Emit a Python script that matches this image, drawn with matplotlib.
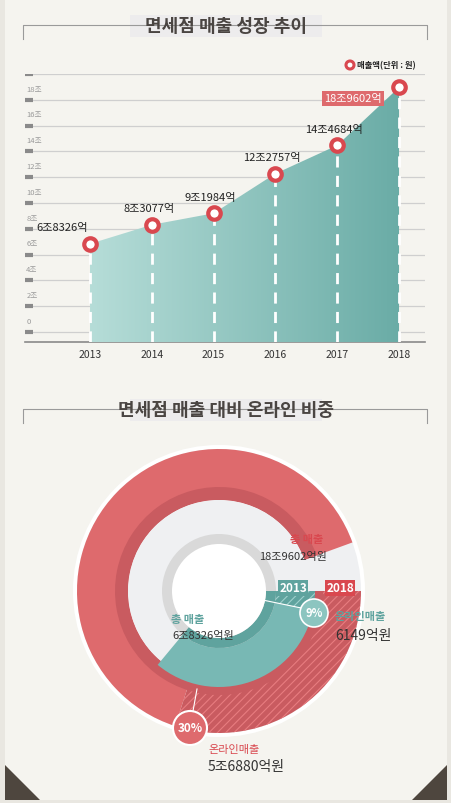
import matplotlib
matplotlib.use("Agg")
import matplotlib.pyplot as plt
import numpy as np
from matplotlib.patches import Wedge, Circle, Rectangle, Polygon, FancyBboxPatch
from matplotlib.colors import LinearSegmentedColormap

plt.rcParams['font.family'] = ['Noto Sans CJK KR', 'DejaVu Sans']
plt.rcParams['hatch.color'] = 'white'
plt.rcParams['hatch.linewidth'] = 0.8

years = [2013, 2014, 2015, 2016, 2017, 2018]
sales = [6.8326, 8.3077, 9.1984, 12.2757, 14.4684, 18.9602]
sales_labels = ['6조8326억', '8조3077억', '9조1984억', '12조2757억', '14조4684억', '18조9602억']
yticks = [0, 2, 4, 6, 8, 10, 12, 14, 16, 18, 20]
ytick_labels = ['0', '2조', '4조', '6조', '8조', '10조', '12조', '14조', '16조', '18조', '']

total_2013 = 6.8326
online_2013 = 0.6149
total_2018 = 18.9602
online_2018 = 5.6880
share_2013 = 9
share_2018 = 30

BG = '#f5f4ef'
RED = '#de6a6d'
RED_D = '#c95b60'
TEAL = '#78b8b4'
TEAL_D = '#5fa39e'
W, H = 452, 804

fig = plt.figure(figsize=(W/100, H/100), dpi=100, facecolor=BG)

# overlay in pixel coords
ov = fig.add_axes([0, 0, 1, 1], zorder=0)
ov.set_xlim(0, W); ov.set_ylim(H, 0); ov.axis('off')
ov.add_patch(Rectangle((0, 0), W, H, fc='#e9e7e1', ec='none'))
ov.add_patch(Rectangle((5, 0), W-10, H-3, fc=BG, ec='none'))

def title(y, text):
    ov.plot([23, 23, 427, 427], [40+y-26, y, y, 40+y-26], color='#9a9a9a', lw=0.8)
    ov.add_patch(Rectangle((130, y-10), 192, 22, fc='#edeced', ec='none'))
    ov.text(226, y+1, text, ha='center', va='center', fontsize=13, color='#4a4542', fontweight='bold')
title(26, '면세점 매출 성장 추이')
title(410, '면세점 매출 대비 온라인 비중')

# corner triangles
ov.add_patch(Polygon([[5, 766], [5, 801], [40, 801]], fc='#4e463e', ec='none'))
ov.add_patch(Polygon([[447, 766], [447, 801], [412, 801]], fc='#4e463e', ec='none'))

# ---- line/area chart ----
ax = fig.add_axes([25/W, 1-343/H, 400/W, 268/H], zorder=2)
ax.set_facecolor('none')
ax.set_xlim(2011.95, 2018.42)
ax.set_ylim(-0.78, 20.0)
for v, lab in zip(yticks, ytick_labels):
    ax.axhline(v, color='#cfcfcf', lw=0.9, zorder=1)
    ax.plot([2011.95, 2012.08], [v, v], color='#8a8a8a', lw=3, solid_capstyle='butt', zorder=2)
    if lab:
        ax.text(2011.97, v+0.55, lab, fontsize=5.5, color='#9a9a9a', va='bottom', ha='left')
for s in ['top', 'right', 'left']:
    ax.spines[s].set_visible(False)
ax.spines['bottom'].set_color('#8a8a8a')
ax.spines['bottom'].set_linewidth(1.2)
ax.set_yticks([])
ax.set_xticks(years)
ax.set_xticklabels([str(y) for y in years], fontsize=7.5, color='#333333')
ax.tick_params(axis='x', length=0, pad=5)

poly = ax.fill_between(years, sales, -0.78, color='none', zorder=3)
cmap = LinearSegmentedColormap.from_list('g', ['#b6ddd8', '#6aaca6'])
grad = np.linspace(0, 1, 256).reshape(1, -1)
im = ax.imshow(grad, extent=[years[0], years[-1], -0.78, 20], aspect='auto', cmap=cmap, zorder=3)
im.set_clip_path(poly.get_paths()[0], transform=ax.transData)
for x, y in zip(years, sales):
    ax.plot([x, x], [-0.78, y], color='white', lw=2, ls=(0, (4, 3)), zorder=4)
ax.plot(years, sales, 'o', ms=9, mfc='white', mec='#d9484f', mew=3, zorder=6)
for i, (x, y, lab) in enumerate(zip(years, sales, sales_labels)):
    if i == len(years)-1:
        ax.text(x-0.28, y-0.85, lab, ha='right', va='center', fontsize=8, color='white',
                bbox=dict(boxstyle='square,pad=0.2', fc='#de6a6d', ec='none'), zorder=7)
    else:
        ax.text(x-0.45 if i == 0 else x-0.05, y+0.9, lab, ha='center', va='bottom', fontsize=8,
                color='#222222', zorder=7)

# ---- donut ----
cx, cy = 219, 592
def wedge(r, a1, a2, width=None, **kw):
    # visual ccw angles -> data angles (y inverted)
    ov.add_patch(Wedge((cx, cy), r, -a2, -a1, width=width, **kw))

ov.add_patch(Circle((cx, cy), 146, fc='white', ec='none'))
ov.add_patch(Circle((cx, cy), 142, fc='#eff0f2', ec='none'))
a18 = online_2018 / total_2018 * 360
wedge(142, -a18, 0, width=51, fc=RED_D, ec='none')
wedge(142, -a18, 0, width=51, fc='none', ec='#e87c80', hatch='////', lw=0)
wedge(142, 20, 360 - a18, width=51, fc=RED, ec='none')
wedge(104, 20, 360, width=13, fc=RED_D, ec='none')
# inner
ov.add_patch(Circle((cx, cy), 91, fc='#eff0f2', ec='none'))
a13 = total_2013 / total_2018 * 360
o13 = online_2013 / total_2013 * a13
wedge(96, -a13, -o13, fc=TEAL, ec='none')
wedge(96, -o13, 0, fc=TEAL_D, ec='none')
wedge(96, -o13, 0, fc='none', ec='#9fd0cc', hatch='////', lw=0)
ov.add_patch(Circle((cx, cy), 57, fc='#d9d9d9', ec='none'))
wedge(57, -a13, 0, width=10, fc=TEAL_D, ec='none')
ov.plot([cx + 47*np.cos(np.radians(o13)), cx + 96*np.cos(np.radians(o13))],
        [cy + 47*np.sin(np.radians(o13)), cy + 96*np.sin(np.radians(o13))], color='white', lw=0.8)
ov.add_patch(Circle((cx, cy), 47, fc='white', ec='none'))

# labels
ov.text(293, 589, '2013', ha='center', va='center', fontsize=8.5, color='white', fontweight='bold',
        bbox=dict(boxstyle='square,pad=0.1', fc=TEAL_D, ec='none'))
ov.text(340, 589, '2018', ha='center', va='center', fontsize=8.5, color='white', fontweight='bold',
        bbox=dict(boxstyle='square,pad=0.1', fc='#d9484f', ec='none'))
ov.add_patch(Circle((314, 614), 14, fc='#8cc5c0', ec='white', lw=1.2, zorder=5))
ov.text(314, 614, f'{share_2013}%', ha='center', va='center', fontsize=8, color='white', fontweight='bold', zorder=6)
ov.plot([197, 193], [690, 712], color='white', lw=0.8)
ov.add_patch(Circle((190, 729), 17, fc=RED, ec='white', lw=1.5, zorder=5))
ov.text(190, 729, f'{share_2018}%', ha='center', va='center', fontsize=8.5, color='white', fontweight='bold', zorder=6)

ov.text(307, 540, '총 매출', ha='center', va='center', fontsize=8, color='#d9484f', fontweight='bold')
ov.text(293, 557, '18조9602억원', ha='center', va='center', fontsize=8, color='#333333')
ov.text(188, 620, '총 매출', ha='center', va='center', fontsize=8, color=TEAL_D, fontweight='bold')
ov.text(203, 636, '6조8326억원', ha='center', va='center', fontsize=8, color='#333333')
ov.text(335, 617, '온라인매출', ha='left', va='center', fontsize=8, color=TEAL_D, fontweight='bold')
ov.text(335, 636, '6149억원', ha='left', va='center', fontsize=10, color='#333333')
ov.text(208, 750, '온라인매출', ha='left', va='center', fontsize=8, color='#d9484f')
ov.text(208, 767, '5조6880억원', ha='left', va='center', fontsize=10, color='#333333')

# legend
ov.add_patch(Circle((350, 66), 4, fc='white', ec='#d9484f', lw=2.2))
ov.text(357, 66, '매출액(단위 : 원)', ha='left', va='center', fontsize=6, color='#222222', fontweight='bold')

fig.savefig('out.png', dpi=100, facecolor=BG)
